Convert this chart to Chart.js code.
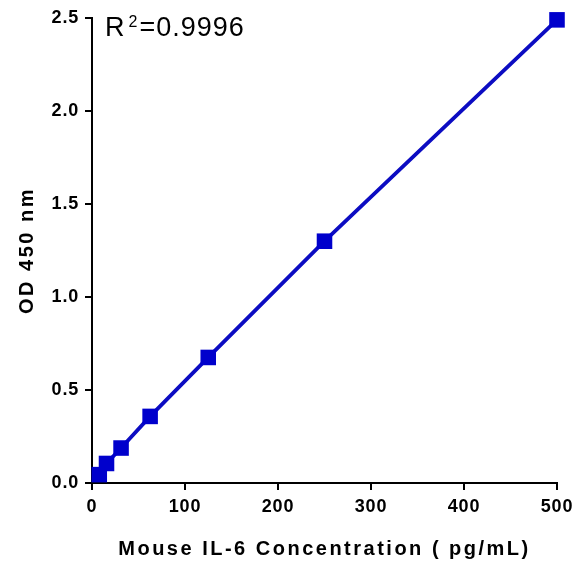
<!DOCTYPE html>
<html>
<head>
<meta charset="utf-8">
<script src="https://cdn.jsdelivr.net/npm/chart.js@4.4.1/dist/chart.umd.min.js"></script>
<style>
html,body{margin:0;padding:0;background:#fff;}
#wrap{width:582px;height:565px;}
</style>
</head>
<body>
<div id="wrap"><canvas id="c"></canvas></div>
<script>
const concentrations = [7.8, 15.6, 31.25, 62.5, 125, 250, 500];
const odValues = [0.045, 0.105, 0.188, 0.358, 0.675, 1.30, 2.49];
const xTicks = [0, 100, 200, 300, 400, 500];
const yTicks = [0, 0.5, 1.0, 1.5, 2.0, 2.5];
const xTitle = 'Mouse IL-6 Concentration ( pg/mL)';
const yTitle = 'OD 450 nm';
const r2Label = '0.9996';

const points = concentrations.map((x, i) => ({x: x, y: odValues[i]}));
const FONT = '"Liberation Sans", Arial, sans-serif';

const spacingPlugin = {
  id: 'titleSpacing',
  afterLayout(chart) {
    Object.values(chart.scales).forEach(s => {
      if (!s._wrappedTitle) {
        const origT = s.drawTitle.bind(s);
        s.drawTitle = function(area) {
          const ctx = this.ctx;
          ctx.save();
          ctx.letterSpacing = '2.5px';
          origT(area);
          ctx.restore();
        };
        const origL = s.drawLabels.bind(s);
        s.drawLabels = function(area) {
          const ctx = this.ctx;
          ctx.save();
          ctx.letterSpacing = '0.8px';
          origL(area);
          ctx.restore();
        };
        s._wrappedTitle = true;
      }
    });
  }
};

const r2Plugin = {
  id: 'r2',
  afterDraw(chart) {
    const ctx = chart.ctx;
    const a = chart.chartArea;
    ctx.save();
    ctx.fillStyle = '#000';
    ctx.textBaseline = 'alphabetic';
    ctx.letterSpacing = '1px';
    let x = a.left + 13;
    const base = a.top + 18;
    ctx.font = '27px ' + FONT;
    ctx.fillText('R', x, base);
    x += ctx.measureText('R').width + 3;
    ctx.font = '16px ' + FONT;
    ctx.fillText('2', x, base - 9);
    x += ctx.measureText('2').width + 1;
    ctx.font = '27px ' + FONT;
    ctx.fillText('=' + r2Label, x, base);
    ctx.restore();
  }
};

new Chart(document.getElementById('c'), {
  type: 'scatter',
  data: {
    datasets: [{
      data: points,
      showLine: true,
      clip: false,
      borderColor: '#0c0cc2',
      backgroundColor: '#0000cc',
      borderWidth: 3.8,
      pointStyle: 'rect',
      pointRadius: 11,
      pointHoverRadius: 11,
      pointBorderWidth: 0,
      tension: 0
    }]
  },
  options: {
    responsive: true,
    maintainAspectRatio: false,
    animation: false,
    devicePixelRatio: 1,
    layout: {padding: {top: 18, right: 25, left: 0, bottom: 0}},
    plugins: {legend: {display: false}, tooltip: {enabled: false}},
    scales: {
      x: {
        type: 'linear',
        min: 0, max: 500,
        afterBuildTicks: s => { s.ticks = xTicks.map(v => ({value: v})); },
        afterFit: s => { s.height = 82; },
        border: {display: true, color: '#000', width: 2},
        grid: {drawOnChartArea: false, drawTicks: true, tickLength: 7, color: '#000', lineWidth: 2},
        ticks: {color: '#000', padding: 6, maxRotation: 0, font: {family: FONT, size: 18, weight: 'bold'}},
        title: {display: true, text: xTitle, color: '#000', padding: {top: 0, bottom: 4}, font: {family: FONT, size: 20, weight: 'bold'}}
      },
      y: {
        type: 'linear',
        min: 0, max: 2.5,
        afterBuildTicks: s => { s.ticks = yTicks.map(v => ({value: v})); },
        afterFit: s => { s.width = 92; },
        border: {display: true, color: '#000', width: 2},
        grid: {drawOnChartArea: false, drawTicks: true, tickLength: 7, color: '#000', lineWidth: 2},
        ticks: {color: '#000', padding: 6, callback: v => Number(v).toFixed(1), font: {family: FONT, size: 18, weight: 'bold'}},
        title: {display: true, text: yTitle, color: '#000', padding: {top: 15, bottom: 0}, font: {family: FONT, size: 20, weight: 'bold'}}
      }
    }
  },
  plugins: [spacingPlugin, r2Plugin]
});
</script>
</body>
</html>
